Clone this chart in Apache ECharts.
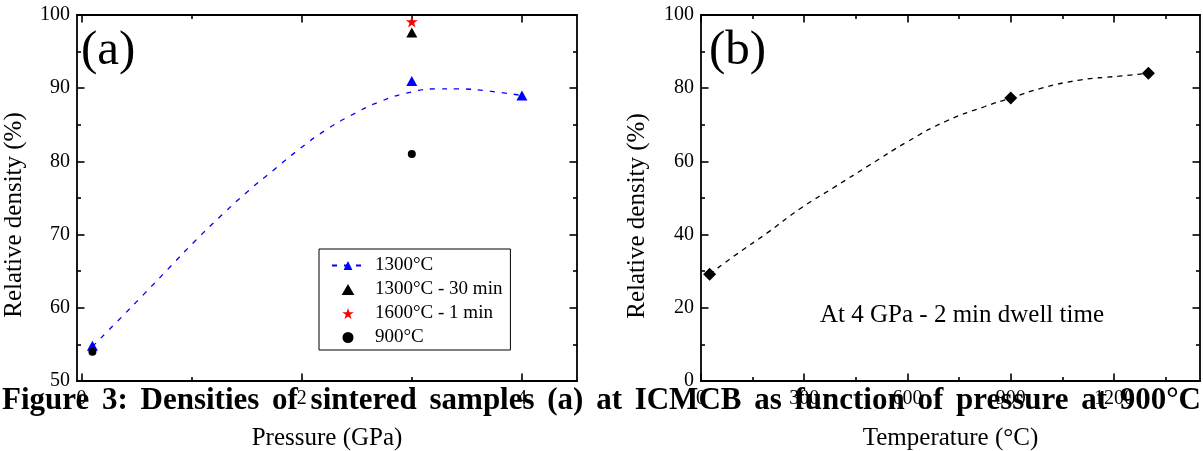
<!DOCTYPE html>
<html>
<head>
<meta charset="utf-8">
<script src="https://cdn.jsdelivr.net/npm/echarts@6.0.0/dist/echarts.min.js"></script>
<style>
  html, body { margin: 0; padding: 0; background: #fff; }
  #c { width: 1203px; height: 451px; }
</style>
</head>
<body>
<div id="c"></div>
<script>
// ---------- data ----------
// Panel (a): relative density vs pressure
const fitPressure = [0.1, 0.33, 0.57, 0.8, 1.03, 1.27, 1.51, 1.76, 1.98, 2.21, 2.45, 2.7, 3.0, 3.25, 3.42, 3.7, 4.0];
const fitDensityA = [54.7, 58.2, 61.9, 65.5, 69.1, 72.6, 75.9, 79.0, 81.7, 84.2, 86.3, 88.1, 89.5, 89.9, 89.9, 89.6, 89.0];
const p1300 = [0.1, 3, 4];
const d1300 = [54.8, 91.0, 89.0];
const p1300_30 = [3];
const d1300_30 = [97.6];
const p1600_1 = [3];
const d1600_1 = [99.1];
const p900 = [0.1, 3];
const d900 = [54.0, 81.0];
const legendNames = ['1300°C', '1300°C - 30 min', '1600°C - 1 min', '900°C'];

// Panel (b): relative density vs temperature at 4 GPa
const fitTemp = [25, 100, 190, 290, 390, 490, 600, 710, 825, 900, 990, 1100, 1215, 1300];
const fitDensityB = [29.2, 34.4, 40.3, 47.2, 53.1, 59.0, 65.4, 70.9, 75.0, 77.3, 80.0, 82.2, 83.3, 84.1];
const tempPts = [25, 900, 1300];
const densPts = [29.2, 77.3, 84.1];

// ticks
const aXMajor = [0, 2, 4];
const aXMinor = [1, 3];
const aYMajor = [50, 60, 70, 80, 90, 100];
const aYMinor = [55, 65, 75, 85, 95];
const bXMajor = [0, 300, 600, 900, 1200];
const bXMinor = [150, 450, 750, 1050, 1350];
const bYMajor = [0, 20, 40, 60, 80, 100];
const bYMinor = [10, 30, 50, 70, 90];

const caption = 'Figure 3: Densities of sintered samples (a) at ICMCB as function of pressure at 900°C';

// ---------- helpers ----------
const FONT = '"Liberation Serif", "Times New Roman", serif';
const pairs = (xs, ys) => xs.map((x, i) => [x, ys[i]]);
const lineBlack = { color: '#000', width: 1.8 };
const STAR = 'path://M50,0 L61.2,34.5 L97.6,34.5 L68.2,55.9 L79.4,90.5 L50,69.1 L20.6,90.5 L31.8,55.9 L2.4,34.5 L38.8,34.5 Z';
const TRI = 'path://M0,95 L55,0 L110,95 Z';

function axisSet(dim, grid, min, max, major, minor, opts) {
  const pos = dim === 'x' ? ['bottom', 'top'] : ['left', 'right'];
  const base = {
    type: 'value', gridIndex: grid, min: min, max: max,
    splitLine: { show: false }, splitArea: { show: false }
  };
  const out = [];
  pos.forEach((p, k) => {
    out.push(Object.assign({}, base, {
      position: p,
      axisLine: { show: true, onZero: false, lineStyle: lineBlack },
      axisTick: { show: true, inside: true, length: 7.5, customValues: major, lineStyle: { color: '#000', width: 1.6 } },
      axisLabel: k === 0 ? {
        show: true, customValues: major, margin: opts.margin, color: '#000',
        fontSize: 20, fontFamily: FONT, formatter: v => String(v)
      } : { show: false },
      name: k === 0 ? opts.name : '',
      nameLocation: 'middle', nameGap: opts.nameGap || 0,
      nameTextStyle: { fontSize: 25, fontFamily: FONT, color: '#000' }
    }));
    out.push(Object.assign({}, base, {
      position: p,
      axisLine: { show: false, onZero: false },
      axisTick: { show: true, inside: true, length: 4, customValues: minor, lineStyle: { color: '#000', width: 1.6 } },
      axisLabel: { show: false }
    }));
  });
  return out;
}

const xAxes = [].concat(
  axisSet('x', 0, -0.04, 4.5, aXMajor, aXMinor, { margin: 8, name: 'Pressure (GPa)', nameGap: 45 }),
  axisSet('x', 1, 0, 1450, bXMajor, bXMinor, { margin: 8, name: 'Temperature (°C)', nameGap: 45 })
);
const yAxes = [].concat(
  axisSet('y', 0, 50, 100, aYMajor, aYMinor, { margin: 7 }),
  axisSet('y', 1, 0, 100, bYMajor, bYMinor, { margin: 7 })
);

// caption words, justified across the page width
function captionElements() {
  const words = caption.split(' ');
  const ctx = document.createElement('canvas').getContext('2d');
  ctx.font = 'bold 31px "Liberation Serif"';
  const widths = words.map(w => ctx.measureText(w).width);
  const total = widths.reduce((a, b) => a + b, 0);
  const left = 2, right = 1201;
  const gap = (right - left - total) / (words.length - 1);
  let x = left;
  return words.map((w, i) => {
    const el = {
      type: 'text', x: x, y: 401, z: 100, silent: true,
      style: {
        text: w, fill: '#000', fontSize: 31, fontWeight: 'bold', fontFamily: FONT,
        textAlign: 'left', align: 'left', textVerticalAlign: 'middle', verticalAlign: 'middle'
      }
    };
    x += widths[i] + gap;
    return el;
  });
}

function txt(text, x, y, size, align, rotation) {
  const el = {
    type: 'text', x: x, y: y, silent: true,
    style: {
      text: text, fill: '#000', fontSize: size, fontFamily: FONT,
      textAlign: align, align: align, textVerticalAlign: 'middle', verticalAlign: 'middle'
    }
  };
  if (rotation) el.rotation = rotation;
  return el;
}

const chart = echarts.init(document.getElementById('c'), null, { renderer: 'canvas' });
chart.setOption({
  backgroundColor: '#fff',
  animation: false,
  grid: [
    { left: 77, top: 15, width: 500, height: 366, containLabel: false, outerBoundsMode: 'none' },
    { left: 701, top: 15, width: 499, height: 366, containLabel: false, outerBoundsMode: 'none' }
  ],
  xAxis: xAxes,
  yAxis: yAxes,
  legend: {
    data: legendNames,
    orient: 'vertical',
    left: 319, top: 249,
    padding: [7, 8, 3, 12],
    itemGap: 5,
    itemWidth: 32, itemHeight: 11,
    selectedMode: false,
    backgroundColor: '#fff',
    borderColor: '#000', borderWidth: 1, borderRadius: 0,
    textStyle: { fontSize: 19, fontFamily: FONT, color: '#000', padding: [0, 0, 0, 6] }
  },
  series: [
    {
      name: '1300°C', type: 'line', xAxisIndex: 0, yAxisIndex: 0,
      data: pairs(fitPressure, fitDensityA), smooth: true, showSymbol: false,
      symbol: TRI, symbolSize: [11, 10],
      lineStyle: { color: '#0000ff', width: 1.3, type: [5, 7] },
      itemStyle: { color: '#0000ff', opacity: 1 }, z: 2
    },
    {
      name: '1300°C', type: 'scatter', xAxisIndex: 0, yAxisIndex: 0,
      data: pairs(p1300, d1300), symbol: TRI, symbolSize: [11, 10],
      itemStyle: { color: '#0000ff', opacity: 1 }, z: 3
    },
    {
      name: '1300°C - 30 min', type: 'scatter', xAxisIndex: 0, yAxisIndex: 0,
      data: pairs(p1300_30, d1300_30), symbol: TRI, symbolSize: [11, 10],
      itemStyle: { color: '#000', opacity: 1 }, z: 3
    },
    {
      name: '1600°C - 1 min', type: 'scatter', xAxisIndex: 0, yAxisIndex: 0,
      data: pairs(p1600_1, d1600_1), symbol: STAR, symbolSize: 12,
      itemStyle: { color: '#ff0000', opacity: 1 }, z: 4
    },
    {
      name: '900°C', type: 'scatter', xAxisIndex: 0, yAxisIndex: 0,
      data: pairs(p900, d900), symbol: 'circle', symbolSize: 8,
      itemStyle: { color: '#000', opacity: 1 }, z: 5
    },
    {
      name: 'fitB', type: 'line', xAxisIndex: 4, yAxisIndex: 4,
      data: pairs(fitTemp, fitDensityB), smooth: true, showSymbol: false,
      lineStyle: { color: '#000', width: 1.3, type: [5, 5] }, z: 2
    },
    {
      name: 'b', type: 'scatter', xAxisIndex: 4, yAxisIndex: 4,
      data: pairs(tempPts, densPts), symbol: 'diamond', symbolSize: 13,
      itemStyle: { color: '#000', opacity: 1 }, z: 3
    }
  ],
  graphic: [
    txt('(a)', 81, 51, 49, 'left'),
    txt('(b)', 709, 51, 49, 'left'),
    txt('Relative density (%)', 14.5, 215, 25, 'center', Math.PI / 2),
    txt('Relative density (%)', 637.5, 216, 25, 'center', Math.PI / 2),
    txt('At 4 GPa - 2 min dwell time', 962, 315, 25, 'center')
  ].concat(captionElements())
});
</script>
</body>
</html>
